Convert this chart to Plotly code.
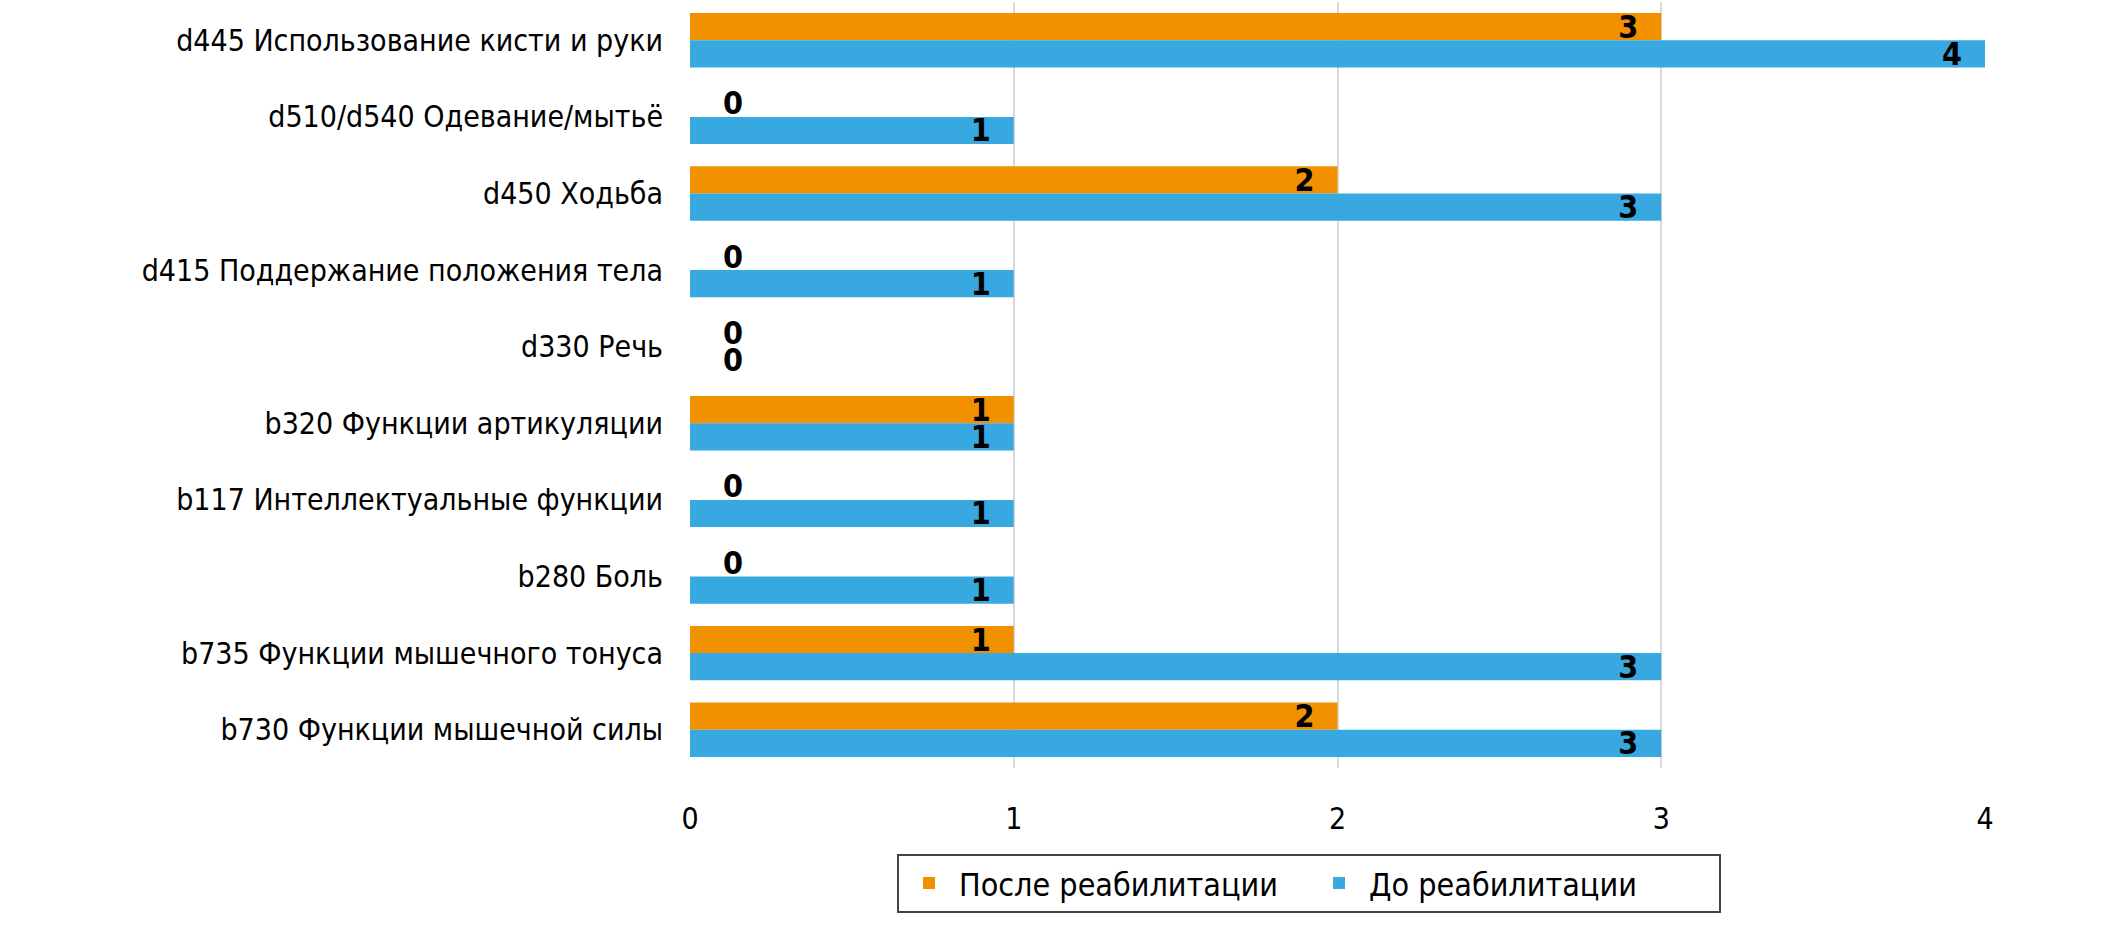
import plotly.graph_objects as go

categories = [
    "d445 Использование кисти и руки",
    "d510/d540 Одевание/мытьё",
    "d450 Ходьба",
    "d415 Поддержание положения тела",
    "d330 Речь",
    "b320 Функции артикуляции",
    "b117 Интеллектуальные функции",
    "b280 Боль",
    "b735 Функции мышечного тонуса",
    "b730 Функции мышечной силы",
]
after_rehab = [3, 0, 2, 0, 0, 1, 0, 0, 1, 2]
before_rehab = [4, 1, 3, 1, 0, 1, 1, 1, 3, 3]
x_ticks = [0, 1, 2, 3, 4]

ORANGE = "#F29100"
BLUE = "#38A9E0"
FONT = "Liberation Sans Narrow, DejaVu Sans Condensed, Roboto, sans-serif"
NB = "\u00a0"


def labels(values):
    # excel puts zero labels just right of the axis, others inside the end
    text = [(NB * 3 + str(v)) if v == 0 else (str(v) + NB * 2) for v in values]
    pos = ["outside" if v == 0 else "inside" for v in values]
    return text, pos


def bar(values, name, color):
    text, pos = labels(values)
    return go.Bar(
        y=categories,
        x=values,
        name=name,
        orientation="h",
        marker=dict(color=color, line=dict(width=0)),
        text=text,
        textposition=pos,
        insidetextanchor="end",
        constraintext="none",
        cliponaxis=False,
        textfont=dict(family=FONT, size=32, color="black", weight="bold"),
    )


fig = go.Figure()
fig.add_trace(bar(after_rehab, "После реабилитации", ORANGE))
fig.add_trace(bar(before_rehab, "До реабилитации", BLUE))

fig.update_layout(
    width=2126,
    height=932,
    margin=dict(l=690, r=141, t=2, b=164),
    barmode="group",
    bargap=0.29,
    bargroupgap=0,
    paper_bgcolor="white",
    plot_bgcolor="white",
    font=dict(family=FONT, size=30, color="black"),
    showlegend=True,
    legend=dict(
        orientation="h",
        x=0.478,
        xanchor="center",
        y=-0.112,
        yanchor="top",
        bordercolor="#444444",
        borderwidth=2,
        font=dict(family=FONT, size=32, color="black"),
        itemwidth=50,
        entrywidth=345,
    ),
)
fig.update_xaxes(
    range=[0, 4],
    tickvals=x_ticks,
    showgrid=True,
    gridcolor="#D9D9D9",
    gridwidth=2,
    zeroline=False,
    showline=False,
    ticklabelstandoff=30,
)
fig.update_yaxes(
    autorange="reversed",
    showgrid=False,
    zeroline=False,
    showline=False,
    ticklabelstandoff=26,
)

# drop the default 8px body margin so the figure sits at the page corner
fig.write_html(
    "out.html",
    config={"displayModeBar": False},
    post_script="document.body.style.margin='0';",
)
